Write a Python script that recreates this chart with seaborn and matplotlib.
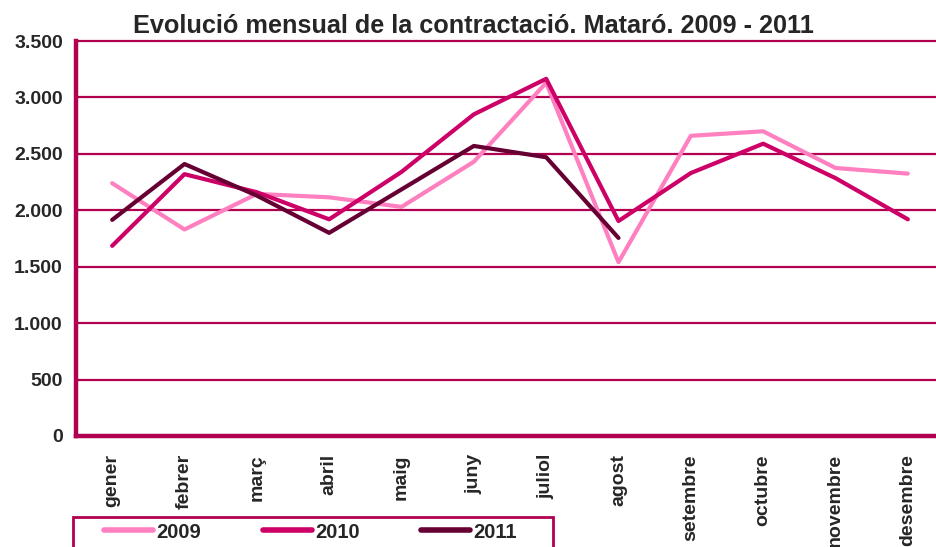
import pandas as pd
import numpy as np
import matplotlib
matplotlib.use("Agg")
import matplotlib.pyplot as plt
import seaborn as sns
from matplotlib.ticker import FuncFormatter
from matplotlib.patches import Rectangle

# Data
months = ["gener", "febrer", "març", "abril", "maig", "juny", "juliol",
          "agost", "setembre", "octubre", "novembre", "desembre"]
values_2009 = [2240, 1830, 2145, 2115, 2030, 2430, 3130, 1540, 2660, 2700, 2375, 2325]
values_2010 = [1685, 2320, 2160, 1920, 2340, 2850, 3165, 1905, 2330, 2590, 2285, 1920]
values_2011 = [1915, 2410, 2130, 1800, 2185, 2570, 2470, 1755]
years = ["2009", "2010", "2011"]
colors = ["#FF80C0", "#CC0066", "#660033"]
axis_color = "#B0004F"

rows = []
for year, vals in zip(years, [values_2009, values_2010, values_2011]):
    for i, v in enumerate(vals):
        rows.append({"month": i, "value": v, "year": year})
df = pd.DataFrame(rows)

sns.set_style("white")
plt.rcParams["font.family"] = ["Liberation Sans", "DejaVu Sans"]
plt.rcParams["font.weight"] = "bold"

fig = plt.figure(figsize=(9.36, 5.47), dpi=100)
ax = fig.add_axes([76 / 936, 111 / 547, 868 / 936, 395 / 547])

sns.lineplot(data=df, x="month", y="value", hue="year", palette=colors,
             linewidth=3, ax=ax, legend=False, sort=False)

ax.set_xlim(-0.5, 11.5)
ax.set_ylim(0, 3500)
ax.set_yticks(np.arange(0, 3501, 500))
ax.yaxis.set_major_formatter(FuncFormatter(lambda v, p: f"{int(v):,}".replace(",", ".")))
ax.grid(axis="y", color=axis_color, linewidth=1.6)
ax.set_axisbelow(True)
for gl in ax.get_ygridlines():
    gl.set_clip_on(False)

ax.set_xticks(range(12))
ax.set_xticklabels(months, rotation=90, fontsize=14, fontweight="bold")
ax.tick_params(axis="x", length=0, pad=13)
ax.set_xticks(np.arange(-0.5, 12, 1), minor=True)
ax.tick_params(axis="x", which="minor", length=5, width=2.5, color=axis_color, direction="out")
ax.tick_params(axis="y", length=6, width=2.5, color=axis_color, direction="out",
               labelsize=14, pad=3.5)
for lab in ax.get_yticklabels():
    lab.set_fontweight("bold")

ax.set_xlabel("")
ax.set_ylabel("")
for side in ["top", "right"]:
    ax.spines[side].set_visible(False)
for side in ["left", "bottom"]:
    ax.spines[side].set_color(axis_color)
    ax.spines[side].set_linewidth(3.2)

fig.text(473 / 936, 1 - 26 / 547, "Evolució mensual de la contractació. Mataró. 2009 - 2011",
         ha="center", va="center", fontsize=18.2, fontweight="bold")

# legend box (runs off the bottom edge like the original)
fig.patches.append(Rectangle((73 / 936, -0.1), 480 / 936, 1.1 - 517 / 547,
                             transform=fig.transFigure, fill=False,
                             edgecolor=axis_color, linewidth=2))
handles = [plt.Line2D([0], [0], color=c, linewidth=4) for c in colors]
fig.legend(handles, years, loc="center left", bbox_to_anchor=(104 / 936, 1 - 532 / 547),
           ncol=3, frameon=False, columnspacing=3.05,
           handlelength=2.45, handletextpad=0.15, borderpad=0, borderaxespad=0,
           prop={"weight": "bold", "size": 14.5})

fig.savefig("out.png", dpi=100)
